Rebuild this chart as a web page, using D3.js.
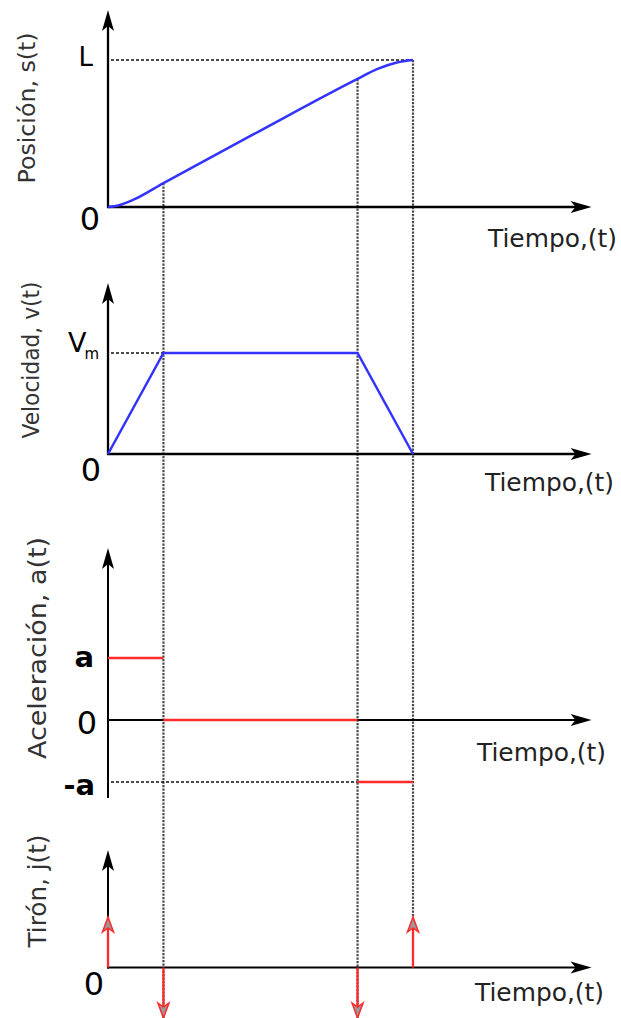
<!DOCTYPE html>
<meta charset="utf-8">
<script src="https://d3js.org/d3.v7.min.js"></script>
<style>
  body { margin: 0; background: #fff; }
  text { font-family: "DejaVu Sans", sans-serif; }
</style>
<div id="chart"></div>
<script>

// ---- data ----
// phase boundaries t0..t3 (end of accel, start of decel, end of motion)
var phaseTimes = [0, 1, 4.5, 5.5];
var tAxisEnd = 8.72;

// position s(t), L = 1
var posTimes  = [0, 0.2, 0.45, 1, 2.75, 4.5, 4.86, 5.21, 5.5];
var posValues = [0, 0.012, 0.048, 0.163, 0.52, 0.871, 0.939, 0.983, 1];

// velocity v(t) at the phase boundaries, vm = 1
var velValues = [0, 1, 1, 0];

// acceleration per phase (a, 0, -a)
var accValues = [1, 0, -1];

// jerk impulses at the phase boundaries
var jerkValues = [1, -1, -1, 1];

var panelTitles = ["Posición, s(t)", "Velocidad, v(t)", "Aceleración, a(t)", "Tirón, j(t)"];
var xTitle = "Tiempo,(t)";

// ---- layout ----
var width = 621, height = 1018;

var svg = d3.select("#chart").append("svg")
  .attr("width", width)
  .attr("height", height);

var x = d3.scaleLinear().domain([0, 5.5]).range([108, 413]);

var ys = d3.scaleLinear().domain([0, 1]).range([207, 60]);
var yv = d3.scaleLinear().domain([0, 1]).range([454, 353]);
var ya = d3.scaleLinear().domain([-1, 1]).range([782, 658]);
var yj = d3.scaleLinear().domain([-1, 1]).range([1018, 917]);

// markers
var defs = svg.append("defs");
defs.append("marker")
  .attr("id", "arrowBlack")
  .attr("viewBox", "-18 -8 26 16")
  .attr("refX", 0).attr("refY", 0)
  .attr("markerUnits", "userSpaceOnUse")
  .attr("markerWidth", 26).attr("markerHeight", 16)
  .attr("orient", "auto")
  .append("path")
    .attr("d", "M6,0 L-15,-6 L-10,0 L-15,6 Z")
    .attr("fill", "#000");

defs.append("marker")
  .attr("id", "arrowRed")
  .attr("viewBox", "-16 -8 22 16")
  .attr("refX", 0).attr("refY", 0)
  .attr("markerUnits", "userSpaceOnUse")
  .attr("markerWidth", 22).attr("markerHeight", 16)
  .attr("orient", "auto")
  .append("path")
    .attr("d", "M3,0 L-12,-5.5 L-8,0 L-12,5.5 Z")
    .attr("fill", "#999")
    .attr("stroke", "#ff2a2a")
    .attr("stroke-width", 1.5);

// ---- vertical guide lines (dotted) ----
var guides = [
  {t: phaseTimes[1], y0: ys(posValues[3]), y1: 1018},
  {t: phaseTimes[2], y0: ys(posValues[5]), y1: 1018},
  {t: phaseTimes[3], y0: ys(1), y1: 917}
];
svg.selectAll(".guide")
  .data(guides)
  .enter().append("line")
    .attr("class", "guide")
    .attr("x1", function(d){ return x(d.t) })
    .attr("x2", function(d){ return x(d.t) })
    .attr("y1", function(d){ return d.y0 })
    .attr("y2", function(d){ return d.y1 })
    .attr("stroke", "#4a4a4a")
    .attr("stroke-width", 2.2)
    .attr("stroke-dasharray", "2.2,1.3");

// horizontal dashed reference lines
var hrefs = [
  {x0: x(0) + 3, x1: x(phaseTimes[3]), y: ys(1)},
  {x0: x(0) + 3, x1: x(phaseTimes[1]), y: yv(1)},
  {x0: x(0) + 3, x1: x(phaseTimes[2]), y: ya(-1)}
];
svg.selectAll(".href")
  .data(hrefs)
  .enter().append("line")
    .attr("x1", function(d){ return d.x0 })
    .attr("x2", function(d){ return d.x1 })
    .attr("y1", function(d){ return d.y })
    .attr("y2", function(d){ return d.y })
    .attr("stroke", "#111")
    .attr("stroke-width", 1.7)
    .attr("stroke-dasharray", "3,2");

// ---- axes (arrows) ----
var axes = [
  {yTop: 10,  yBottom: ys(0), yZero: ys(0), w: 2.3},
  {yTop: 283, yBottom: yv(0), yZero: yv(0), w: 2.3},
  {yTop: 548, yBottom: 797,   yZero: ya(0), w: 2},
  {yTop: 850, yBottom: yj(0), yZero: yj(0), w: 2}
];
axes.forEach(function(a) {
  svg.append("line")
    .attr("x1", x(0)).attr("x2", x(0))
    .attr("y1", a.yBottom + 1).attr("y2", a.yTop + 6)
    .attr("stroke", "#000").attr("stroke-width", a.w)
    .attr("marker-end", "url(#arrowBlack)");
  svg.append("line")
    .attr("x1", x(0) - 1).attr("x2", x(tAxisEnd) - 6)
    .attr("y1", a.yZero).attr("y2", a.yZero)
    .attr("stroke", "#000").attr("stroke-width", a.w)
    .attr("marker-end", "url(#arrowBlack)");
});

// ---- series ----
var posLine = d3.line()
  .x(function(d, i){ return x(posTimes[i]) })
  .y(function(d){ return ys(d) })
  .curve(d3.curveMonotoneX);
svg.append("path")
  .attr("d", posLine(posValues))
  .attr("fill", "none")
  .attr("stroke", "#3333ff")
  .attr("stroke-width", 2.5);

var velLine = d3.line()
  .x(function(d, i){ return x(phaseTimes[i]) })
  .y(function(d){ return yv(d) });
svg.append("path")
  .attr("d", velLine(velValues))
  .attr("fill", "none")
  .attr("stroke", "#3333ff")
  .attr("stroke-width", 2.5);

svg.selectAll(".acc")
  .data(accValues)
  .enter().append("line")
    .attr("x1", function(d, i){ return x(phaseTimes[i]) })
    .attr("x2", function(d, i){ return x(phaseTimes[i + 1]) })
    .attr("y1", function(d){ return ya(d) })
    .attr("y2", function(d){ return ya(d) })
    .attr("stroke", "#ff2a2a")
    .attr("stroke-width", 2.5);

svg.selectAll(".jerk")
  .data(jerkValues)
  .enter().append("line")
    .attr("x1", function(d, i){ return x(phaseTimes[i]) })
    .attr("x2", function(d, i){ return x(phaseTimes[i]) })
    .attr("y1", yj(0))
    .attr("y2", function(d){ return yj(d) - (d > 0 ? -3 : 3) })
    .attr("stroke", "#ff2a2a")
    .attr("stroke-width", 2.3)
    .attr("marker-end", "url(#arrowRed)");

// ---- text ----
// rotated panel titles
var titlePos = [
  {cx: 35, cy: 108, size: 23, len: 151},
  {cx: 39, cy: 360, size: 23, len: 157},
  {cx: 46, cy: 648, size: 25, len: 222},
  {cx: 46, cy: 891, size: 24, len: 113}
];
svg.selectAll(".ptitle")
  .data(panelTitles)
  .enter().append("text")
    .attr("transform", function(d, i){ return "translate(" + titlePos[i].cx + "," + titlePos[i].cy + ") rotate(-90)" })
    .attr("text-anchor", "middle")
    .attr("font-size", function(d, i){ return titlePos[i].size + "px" })
    .attr("textLength", function(d, i){ return titlePos[i].len })
    .attr("lengthAdjust", "spacingAndGlyphs")
    .attr("fill", "#333")
    .text(function(d){ return d });

// time axis titles
var timeTitlePos = [[488, 247], [485, 491], [477, 761], [475, 1001]];
svg.selectAll(".ttitle")
  .data(timeTitlePos)
  .enter().append("text")
    .attr("x", function(d){ return d[0] })
    .attr("y", function(d){ return d[1] })
    .attr("font-size", "24px")
    .attr("textLength", 129)
    .attr("lengthAdjust", "spacingAndGlyphs")
    .attr("fill", "#222")
    .text(xTitle);

// value labels on the y axes
function label(txt, xr, y, size, weight) {
  return svg.append("text")
    .attr("x", xr).attr("y", y)
    .attr("text-anchor", "end")
    .attr("font-size", size + "px")
    .attr("font-weight", weight || "normal")
    .attr("fill", "#000")
    .text(txt);
}
label("0", 100, ys(0) + 23, 32);
label("L", 93, ys(1) + 6, 26);
label("0", 101, yv(0) + 27, 32);
var vm = svg.append("text")
  .attr("x", 68).attr("y", yv(1) - 1)
  .attr("font-size", "27px")
  .attr("fill", "#000");
vm.append("tspan").text("V");
vm.append("tspan").attr("font-size", "15px").attr("dy", 7).attr("dx", -2).text("m");
label("a", 94, ya(1) + 9, 29, "bold");
label("0", 97, ya(0) + 14, 32);
label("-a", 95, ya(-1) + 13, 29, "bold");
label("0", 104, yj(0) + 27, 32);

</script>
